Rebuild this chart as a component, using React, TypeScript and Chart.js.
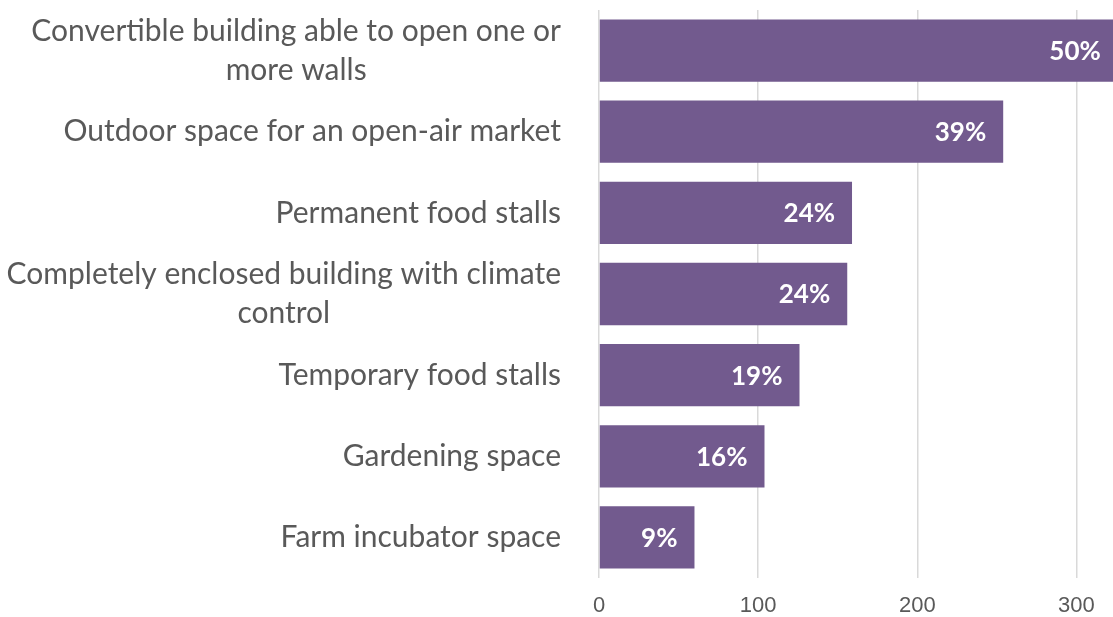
import React, { useEffect, useRef } from "react";
import { Chart, registerables } from "chart.js";

Chart.register(...registerables);

const categories: string[][] = [
  ["Convertible building able to open one or", "more walls"],
  ["Outdoor space for an open-air market"],
  ["Permanent food stalls"],
  ["Completely enclosed building with climate", "control"],
  ["Temporary food stalls"],
  ["Gardening space"],
  ["Farm incubator space"],
];
const values: number[] = [326, 254, 159, 156, 126, 104, 60];
const percentLabels: string[] = ["50%", "39%", "24%", "24%", "19%", "16%", "9%"];
const xTicks: number[] = [0, 100, 200, 300];
const xMax = 323;

const BAR_COLOR = "#725A8E";
const TEXT_COLOR = "#595959";
const GRID_COLOR = "#D9D9D9";

const labelsPlugin = {
  id: "customLabels",
  afterDraw(chart: any) {
    const ctx = chart.ctx as CanvasRenderingContext2D;
    const yScale = chart.scales.y;
    // category labels
    ctx.save();
    ctx.font = "30px Lato";
    ctx.fillStyle = TEXT_COLOR;
    ctx.textBaseline = "middle";
    const rightX = chart.chartArea.left - 38;
    const lineH = 39;
    categories.forEach((lines, i) => {
      const cy = yScale.getPixelForValue(i);
      const widths = lines.map((l) => ctx.measureText(l).width);
      const maxW = Math.max(...widths);
      const blockCenter = rightX - maxW / 2;
      lines.forEach((l, j) => {
        const y = cy + (j - (lines.length - 1) / 2) * lineH;
        ctx.textAlign = "center";
        ctx.fillText(l, blockCenter, y);
      });
    });
    ctx.restore();
    // data labels
    ctx.save();
    ctx.font = "bold 26px Lato";
    ctx.fillStyle = "#FFFFFF";
    ctx.textAlign = "right";
    ctx.textBaseline = "middle";
    const meta = chart.getDatasetMeta(0);
    meta.data.forEach((bar: any, i: number) => {
      ctx.fillText(percentLabels[i], bar.x - 17, bar.y + 1);
    });
    ctx.restore();
  },
};

export default function App() {
  const canvasRef = useRef<HTMLCanvasElement | null>(null);

  useEffect(() => {
    if (!canvasRef.current) return;
    const chart = new Chart(canvasRef.current, {
      type: "bar",
      data: {
        labels: categories.map((c) => c.join(" ")),
        datasets: [
          {
            data: values,
            backgroundColor: BAR_COLOR,
            borderWidth: 0,
            barPercentage: 0.768,
            categoryPercentage: 1,
          },
        ],
      },
      options: {
        indexAxis: "y",
        animation: false,
        responsive: false,
        layout: { padding: { left: 599, right: 0, top: 10, bottom: 0 } },
        plugins: {
          legend: { display: false },
          tooltip: { enabled: false },
        },
        scales: {
          x: {
            type: "linear",
            min: 0,
            max: xMax,
            afterBuildTicks: (scale: any) => {
              scale.ticks = xTicks.map((v) => ({ value: v }));
            },
            afterFit: (scale: any) => {
              scale.height = 39;
            },
            grid: {
              color: GRID_COLOR,
              lineWidth: 1.5,
              drawTicks: false,
            },
            border: { display: false },
            ticks: {
              padding: 15,
              color: TEXT_COLOR,
              font: { family: "'Liberation Sans', Arial", size: 22 },
            },
          },
          y: {
            display: false,
          },
        },
      },
      plugins: [labelsPlugin],
    });
    document.fonts && document.fonts.ready.then(() => chart.update());
    return () => chart.destroy();
  }, []);

  return (
    <div style={{ position: "absolute", left: 0, top: 0, width: 1113, height: 617, background: "#fff" }}>
      <canvas ref={canvasRef} width={1113} height={617} />
    </div>
  );
}
